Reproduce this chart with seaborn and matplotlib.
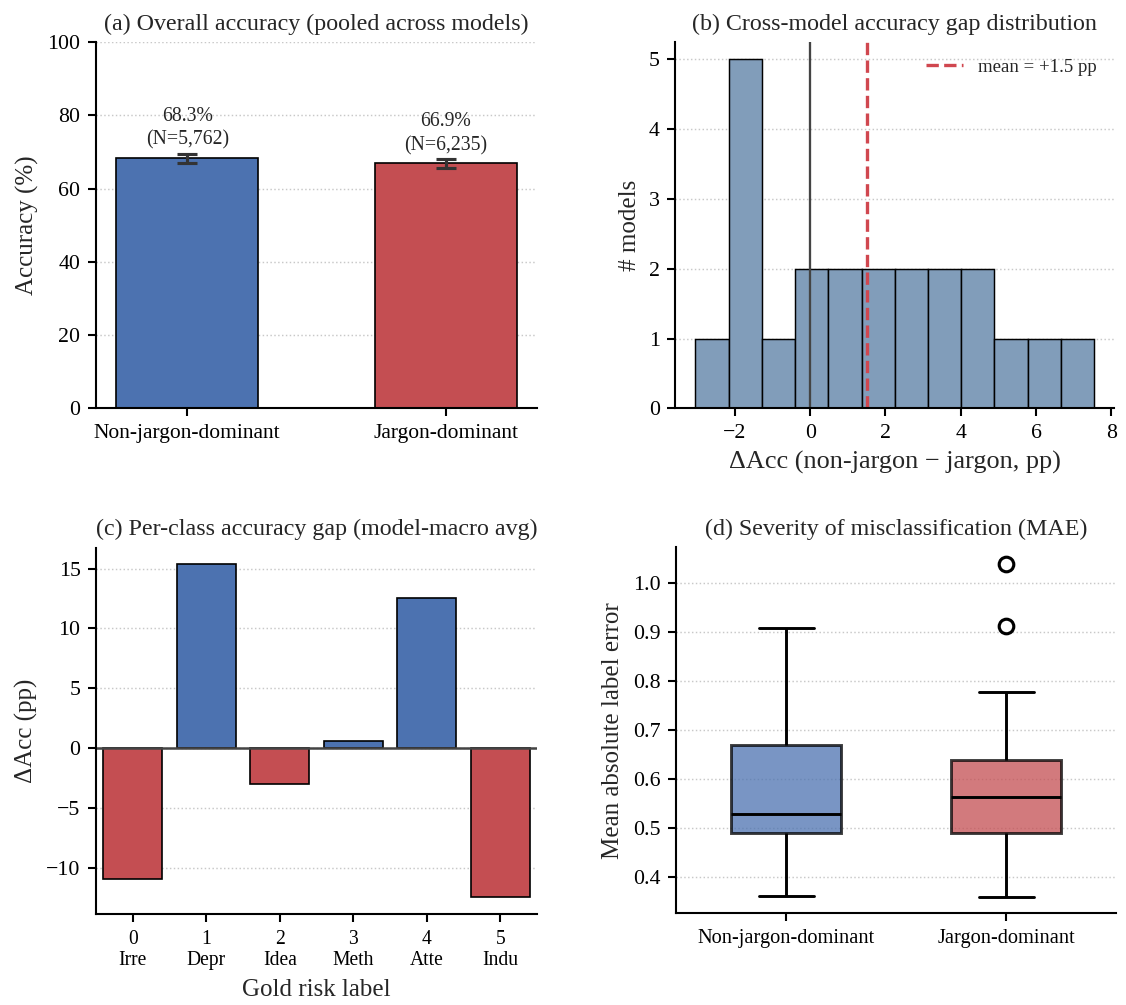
import numpy as np
import pandas as pd
import matplotlib
matplotlib.use("Agg")
import matplotlib.pyplot as plt
import seaborn as sns

# ---------------- data ----------------
groups = ["Non-jargon-dominant", "Jargon-dominant"]
overall_acc = [68.3, 66.9]
overall_err = [1.25, 1.25]
overall_n = [5762, 6235]

# per-model accuracy gap (non-jargon - jargon), pp
gap_values = [-3.05, -2.1, -1.9, -1.8, -1.6, -1.4, -0.9, -0.2, 0.3, 0.7, 1.1,
              1.6, 2.0, 2.5, 2.9, 3.3, 3.8, 4.2, 4.6, 5.3, 6.2, 7.54]

class_ids = [0, 1, 2, 3, 4, 5]
class_names = ["Irre", "Depr", "Idea", "Meth", "Atte", "Indu"]
class_gap = [-11.0, 15.35, -3.0, 0.6, 12.5, -12.5]

mae_nonjargon = [0.361, 0.41, 0.44, 0.46, 0.48, 0.490, 0.490, 0.50, 0.51, 0.52, 0.525,
                 0.533, 0.56, 0.60, 0.64, 0.669, 0.669, 0.70, 0.74, 0.79, 0.85, 0.909]
mae_jargon = [0.360, 0.40, 0.43, 0.46, 0.48, 0.490, 0.490, 0.50, 0.52, 0.54, 0.558,
              0.568, 0.58, 0.60, 0.62, 0.639, 0.639, 0.66, 0.70, 0.778, 0.912, 1.040]

blue = "#4C72B0"
red = "#C44E52"
hist_color = "#819DBA"

# ---------------- style ----------------
sns.set_theme(style="ticks", context="paper")
plt.rcParams["font.family"] = ["Liberation Serif", "DejaVu Serif"]
plt.rcParams["mathtext.fontset"] = "stix"
plt.rcParams["axes.linewidth"] = 1.0
plt.rcParams["xtick.major.width"] = 1.0
plt.rcParams["ytick.major.width"] = 1.0
plt.rcParams["xtick.major.size"] = 4
plt.rcParams["ytick.major.size"] = 4
plt.rcParams["xtick.color"] = "black"
plt.rcParams["ytick.color"] = "black"
plt.rcParams["axes.edgecolor"] = "black"

TITLE = 11.5
LABEL = 12
TICK = 10.5

fig = plt.figure(figsize=(1126 / 150, 1005 / 150), dpi=150)
ax_a = fig.add_axes([0.0853, 0.5937, 0.3917, 0.3645])
ax_b = fig.add_axes([0.5999, 0.5937, 0.3894, 0.3645])
ax_c = fig.add_axes([0.0853, 0.0905, 0.3917, 0.3645])
ax_d = fig.add_axes([0.6004, 0.0912, 0.3908, 0.3645])

def style_axis(ax):
    ax.yaxis.grid(True, linestyle=":", color="#c8c8c8", linewidth=0.7)
    ax.set_axisbelow(True)
    sns.despine(ax=ax)
    ax.tick_params(labelsize=TICK)

# ---------------- (a) ----------------
sns.barplot(x=groups, y=overall_acc, hue=groups, palette=[blue, red], legend=False,
            width=0.55, saturation=1, edgecolor="black", linewidth=0.8, ax=ax_a)
ax_a.errorbar(x=[0, 1], y=overall_acc, yerr=overall_err, fmt="none",
              ecolor="#333333", elinewidth=1.5, capsize=5, capthick=1.5, zorder=5)
for i, (acc, err, n) in enumerate(zip(overall_acc, overall_err, overall_n)):
    ax_a.text(i, acc + err + 1.0, f"{acc:.1f}%\n(N={n:,})", ha="center", va="bottom",
              fontsize=9.5, linespacing=1.3)
ax_a.set_ylim(0, 100)
ax_a.set_yticks([0, 20, 40, 60, 80, 100])
ax_a.set_ylabel("Accuracy (%)", fontsize=LABEL)
ax_a.set_xlabel("")
ax_a.set_title("(a) Overall accuracy (pooled across models)", fontsize=TITLE)
style_axis(ax_a)
ax_a.tick_params(axis="x", labelsize=10.3)

# ---------------- (b) ----------------
sns.histplot(x=gap_values, bins=12, color=hist_color, edgecolor="black", linewidth=0.7,
             alpha=1, ax=ax_b)
ax_b.axvline(0, color="#444444", linewidth=1.1)
mean_gap = float(np.mean(gap_values))
ax_b.axvline(mean_gap, color="#D0474F", linestyle="--", linewidth=1.6,
             label=f"mean = {mean_gap:+.1f} pp")
ax_b.legend(loc="upper right", frameon=False, fontsize=9)
ax_b.set_xticks([-2, 0, 2, 4, 6, 8])
ax_b.set_xlabel("ΔAcc (non-jargon − jargon, pp)", fontsize=12.6)
ax_b.set_ylabel("# models", fontsize=LABEL)
ax_b.set_title("(b) Cross-model accuracy gap distribution", fontsize=TITLE)
style_axis(ax_b)

# ---------------- (c) ----------------
class_labels = [f"{i}\n{n}" for i, n in zip(class_ids, class_names)]
bar_colors = [blue if v > 0 else red for v in class_gap]
sns.barplot(x=class_labels, y=class_gap, hue=class_labels, palette=bar_colors, legend=False,
            width=0.8, saturation=1, edgecolor="black", linewidth=0.8, ax=ax_c)
ax_c.axhline(0, color="#444444", linewidth=1.2)
ax_c.set_xlabel("Gold risk label", fontsize=LABEL)
ax_c.set_ylabel("ΔAcc (pp)", fontsize=LABEL)
ax_c.set_title("(c) Per-class accuracy gap (model-macro avg)", fontsize=TITLE)
style_axis(ax_c)
ax_c.tick_params(axis="x", labelsize=9.4)

# ---------------- (d) ----------------
df_mae = pd.DataFrame({
    "group": [groups[0]] * len(mae_nonjargon) + [groups[1]] * len(mae_jargon),
    "mae": mae_nonjargon + mae_jargon,
})
sns.boxplot(data=df_mae, x="group", y="mae", hue="group", palette=[blue, red], legend=False,
            width=0.5, saturation=1, linewidth=1.4, linecolor="black",
            boxprops=dict(alpha=0.75),
            flierprops=dict(marker="o", markerfacecolor="none", markeredgecolor="black",
                            markersize=7, markeredgewidth=1.5),
            ax=ax_d)
ax_d.set_xlabel("")
ax_d.set_ylabel("Mean absolute label error", fontsize=LABEL)
ax_d.set_title("(d) Severity of misclassification (MAE)", fontsize=TITLE)
style_axis(ax_d)
ax_d.tick_params(axis="x", labelsize=9.8)

fig.savefig("out.png", dpi=150)
